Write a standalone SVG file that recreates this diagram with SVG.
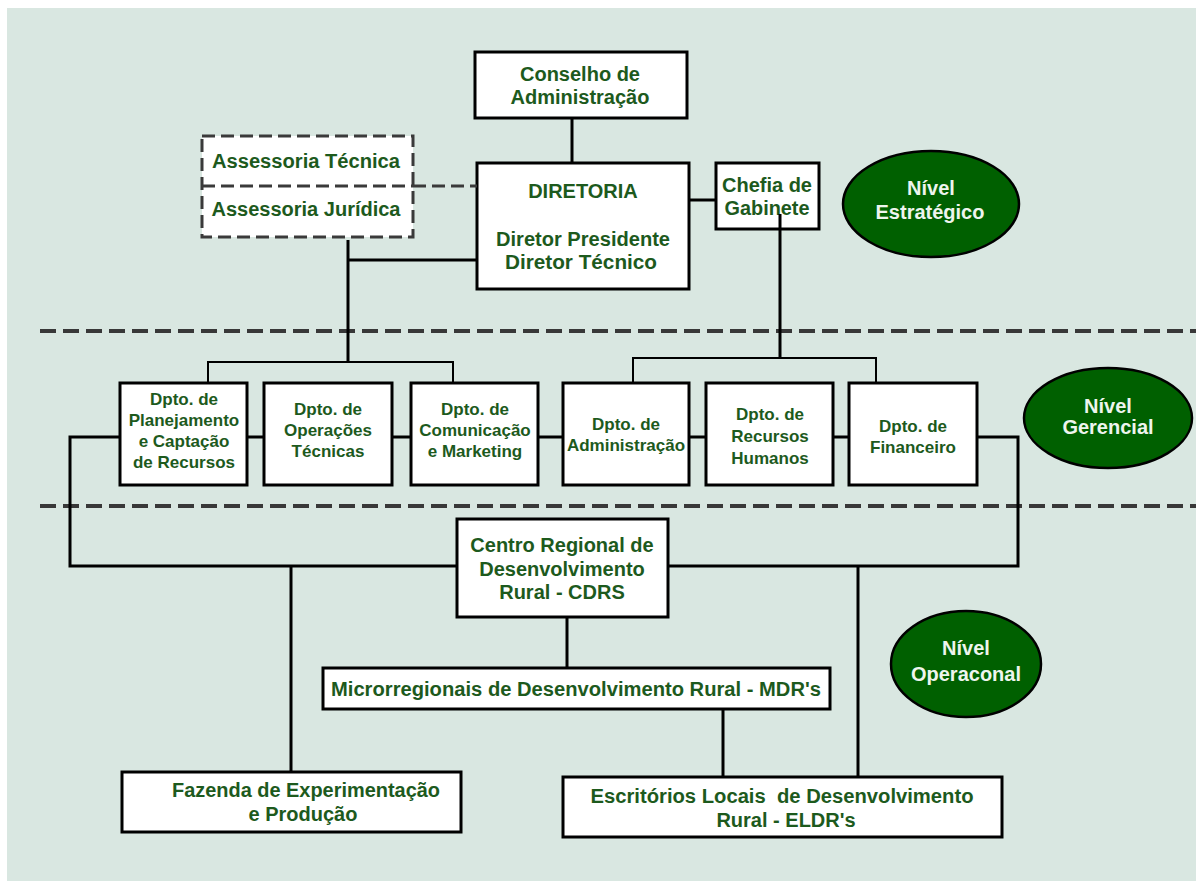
<svg xmlns="http://www.w3.org/2000/svg" width="1196" height="881" viewBox="0 0 1196 881">
<style>
.bg{fill:#d9e7e1}
.box{fill:#fff;stroke:#000;stroke-width:3}
.dbox{fill:#fff;stroke:#3a3a3a;stroke-width:3;stroke-dasharray:13 6}
.lvl{fill:#006000;stroke:#000;stroke-width:2.5}
.t{font-family:"Liberation Sans",Arial,sans-serif;font-weight:bold;fill:#1d5a1d;text-anchor:middle;font-size:20px}
.td{font-size:17px}
.tw{fill:#eef5ee}
.c{stroke:#000;stroke-width:3;fill:none}
.c2{stroke:#000;stroke-width:2;fill:none}
.sep{stroke:#383838;stroke-width:4;stroke-dasharray:16 7;fill:none}
.dl{stroke:#3a3a3a;stroke-width:3;stroke-dasharray:13 6;fill:none}
</style>
<rect x="0" y="0" width="1196" height="881" fill="#fff"/>
<rect class="bg" x="7" y="8" width="1189" height="873"/>

<g id="separators">
<path class="sep" d="M40 331 H1196"/>
<path class="sep" d="M40 506 H1196"/>
</g>

<g id="conselho">
<rect class="box" x="475" y="52" width="212" height="66"/>
<text class="t" x="580" y="81">Conselho de</text>
<text class="t" x="580" y="104">Administração</text>
</g>

<g id="assessoria">
<rect class="dbox" x="202" y="136" width="211" height="101"/>
<path class="dl" d="M202 186 H413"/>
<text class="t" x="306" y="168" textLength="188" lengthAdjust="spacingAndGlyphs">Assessoria Técnica</text>
<text class="t" x="306" y="216" textLength="189" lengthAdjust="spacingAndGlyphs">Assessoria Jurídica</text>
</g>

<g id="diretoria">
<rect class="box" x="477" y="163" width="212" height="126"/>
<text class="t" x="583" y="198">DIRETORIA</text>
<text class="t" x="583" y="246" textLength="174" lengthAdjust="spacingAndGlyphs">Diretor Presidente</text>
<text class="t" x="581" y="269" textLength="152" lengthAdjust="spacingAndGlyphs">Diretor Técnico</text>
</g>

<g id="chefia">
<rect class="box" x="716" y="163" width="103" height="66"/>
<text class="t" x="767" y="192" textLength="90" lengthAdjust="spacingAndGlyphs">Chefia de</text>
<text class="t" x="767" y="215" textLength="85" lengthAdjust="spacingAndGlyphs">Gabinete</text>
</g>

<g id="nivel-estrategico">
<ellipse class="lvl" cx="931" cy="204" rx="88" ry="53"/>
<text class="t tw" x="931" y="195">Nível</text>
<text class="t tw" x="930" y="219">Estratégico</text>
</g>

<g id="dpto-planejamento">
<rect class="box" x="120" y="383" width="127" height="102"/>
<text class="t td" x="184" y="405">Dpto. de</text>
<text class="t td" x="184" y="426">Planejamento</text>
<text class="t td" x="184" y="447">e Captação</text>
<text class="t td" x="184" y="468">de Recursos</text>
</g>

<g id="dpto-operacoes">
<rect class="box" x="264" y="383" width="128" height="102"/>
<text class="t td" x="328" y="415">Dpto. de</text>
<text class="t td" x="328" y="436">Operações</text>
<text class="t td" x="328" y="457">Técnicas</text>
</g>

<g id="dpto-comunicacao">
<rect class="box" x="411" y="383" width="127" height="102"/>
<text class="t td" x="475" y="415">Dpto. de</text>
<text class="t td" x="475" y="436">Comunicação</text>
<text class="t td" x="475" y="457">e Marketing</text>
</g>

<g id="dpto-administracao">
<rect class="box" x="563" y="383" width="126" height="102"/>
<text class="t td" x="626" y="430">Dpto. de</text>
<text class="t td" x="626" y="451">Administração</text>
</g>

<g id="dpto-rh">
<rect class="box" x="706" y="383" width="127" height="102"/>
<text class="t td" x="770" y="420">Dpto. de</text>
<text class="t td" x="770" y="442">Recursos</text>
<text class="t td" x="770" y="464">Humanos</text>
</g>

<g id="dpto-financeiro">
<rect class="box" x="849" y="383" width="128" height="102"/>
<text class="t td" x="913" y="432">Dpto. de</text>
<text class="t td" x="913" y="453">Financeiro</text>
</g>

<g id="nivel-gerencial">
<ellipse class="lvl" cx="1108" cy="418" rx="84" ry="50"/>
<text class="t tw" x="1108" y="413">Nível</text>
<text class="t tw" x="1108" y="434">Gerencial</text>
</g>

<g id="cdrs">
<rect class="box" x="457" y="519" width="211" height="98"/>
<text class="t" x="562" y="552">Centro Regional de</text>
<text class="t" x="562" y="576">Desenvolvimento</text>
<text class="t" x="562" y="599">Rural - CDRS</text>
</g>

<g id="mdr">
<rect class="box" x="323" y="668" width="507" height="41"/>
<text class="t" x="576" y="696" textLength="490" lengthAdjust="spacingAndGlyphs">Microrregionais de Desenvolvimento Rural - MDR's</text>
</g>

<g id="nivel-operacional">
<ellipse class="lvl" cx="966" cy="664" rx="75" ry="53"/>
<text class="t tw" x="966" y="655">Nível</text>
<text class="t tw" x="966" y="681">Operaconal</text>
</g>

<g id="fazenda">
<rect class="box" x="122" y="772" width="339" height="60"/>
<text class="t" x="306" y="797" textLength="268" lengthAdjust="spacingAndGlyphs">Fazenda de Experimentação</text>
<text class="t" x="303" y="821">e Produção</text>
</g>

<g id="escritorios">
<rect class="box" x="563" y="777" width="439" height="60"/>
<text class="t" x="782" y="803" xml:space="preserve" textLength="383" lengthAdjust="spacingAndGlyphs">Escritórios Locais  de Desenvolvimento</text>
<text class="t" x="786" y="827">Rural - ELDR's</text>
</g>

<g id="connectors">
<path class="c" d="M572 118 V163"/>
<path class="c" d="M689 200 H716"/>
<path class="dl" d="M413 186 H477"/>
<path class="c" d="M348 240 V362"/>
<path class="c" d="M348 260 H477"/>
<path class="c2" d="M208 383 V362 H453 V383"/>
<path class="c" d="M780 214 V358"/>
<path class="c2" d="M633 383 V358 H876 V383"/>
<path class="c" d="M247 437 H264 M392 437 H411 M538 437 H563 M689 437 H706 M833 437 H849"/>
<path class="c" d="M120 437 H70 V566 H457"/>
<path class="c" d="M977 437 H1018 V566 H668"/>
<path class="c" d="M291 566 V772"/>
<path class="c" d="M858 566 V777"/>
<path class="c" d="M567 617 V668"/>
<path class="c" d="M723 709 V777"/>
</g>
</svg>
